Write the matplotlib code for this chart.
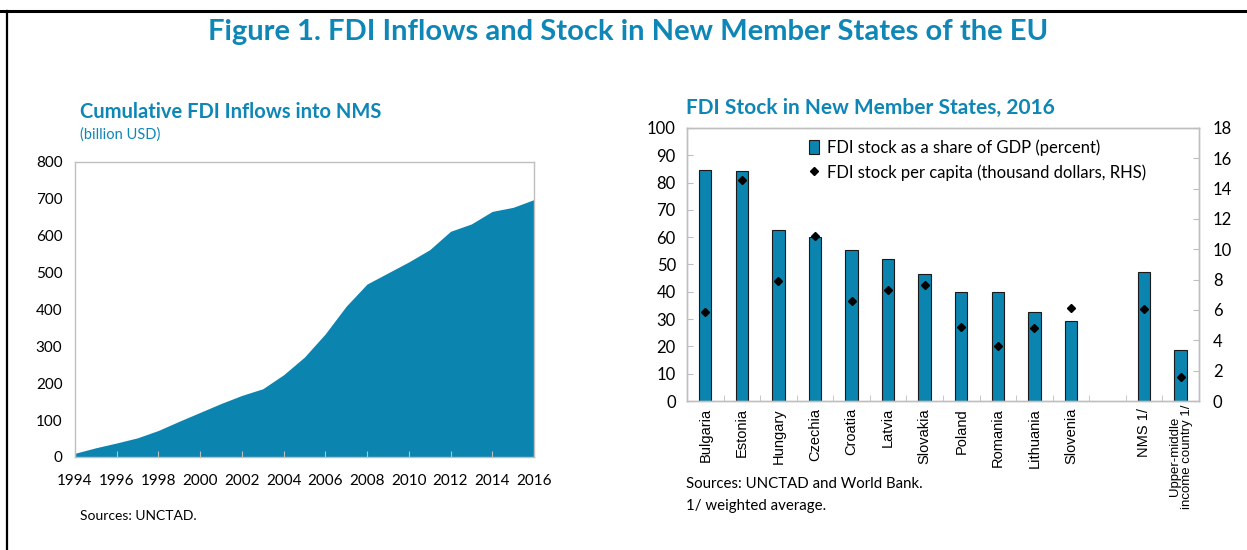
import matplotlib
matplotlib.use("Agg")
import matplotlib.pyplot as plt
from matplotlib.lines import Line2D
import numpy as np

# data
years = list(range(1994, 2017))
cum_fdi = [10, 25, 38, 52, 72, 97, 121, 145, 167, 185, 223, 271, 334, 409,
           469, 499, 529, 562, 612, 632, 666, 677, 698]

countries = ["Bulgaria", "Estonia", "Hungary", "Czechia", "Croatia", "Latvia",
             "Slovakia", "Poland", "Romania", "Lithuania", "Slovenia", "",
             "NMS 1/", "Upper-middle\nincome country 1/"]
stock_gdp = [84.6, 84.4, 62.8, 60.0, 55.4, 52.1, 46.6, 40.0, 39.9, 32.5, 29.3,
             np.nan, 47.4, 18.8]
stock_pc = [5.9, 14.6, 7.9, 10.9, 6.6, 7.3, 7.65, 4.9, 3.65, 4.8, 6.15,
            np.nan, 6.05, 1.6]

blue = "#0B84B0"
title_blue = "#0E86B6"
grey = "#BFBFBF"
plt.rcParams["font.family"] = ["Lato", "DejaVu Sans"]
arial = ["Liberation Sans", "DejaVu Sans"]

fig = plt.figure(figsize=(12.47, 5.5), dpi=100)

# frame lines (top and left)
fig.add_artist(Line2D([0, 1], [0.980, 0.980], color="black", lw=2.2, transform=fig.transFigure))
fig.add_artist(Line2D([0.0058, 0.0058], [0, 0.980], color="black", lw=1.6, transform=fig.transFigure))

fig.text(0.504, 0.942, "Figure 1. FDI Inflows and Stock in New Member States of the EU",
         ha="center", va="center", fontsize=21, fontweight="bold", color=title_blue)

# ---- left chart
ax1 = fig.add_axes([0.0601, 0.1691, 0.3681, 0.5364])
ax1.fill_between(years, cum_fdi, 0, color=blue, lw=0)
ax1.set_xlim(1994, 2016)
ax1.set_ylim(0, 800)
ax1.set_xticks(range(1994, 2017, 2))
ax1.set_yticks(range(0, 801, 100))
ax1.tick_params(axis="x", direction="in", length=4, color=grey, labelsize=11, pad=12)
ax1.tick_params(axis="y", length=0, labelsize=11, pad=9)
for s in ax1.spines.values():
    s.set_color(grey)
    s.set_linewidth(1)

fig.text(0.064, 0.796, "Cumulative FDI Inflows into NMS", ha="left", va="center",
         fontsize=14.5, fontweight="bold", color=title_blue)
fig.text(0.064, 0.755, "(billion USD)", ha="left", va="center", fontsize=10.5, color=title_blue)
fig.text(0.064, 0.062, "Sources: UNCTAD.", ha="left", va="center", fontsize=10)

# ---- right chart
ax2 = fig.add_axes([0.5509, 0.2709, 0.4106, 0.4964])
x = np.arange(len(countries))
ax2.bar(x, stock_gdp, width=0.34, color=blue, edgecolor="#1a1a1a", linewidth=0.8,
        label="FDI stock as a share of GDP (percent)", zorder=2)
ax2.set_xlim(-0.5, len(countries) - 0.5)
ax2.set_ylim(0, 100)
ax2.set_yticks(range(0, 101, 10))
ax2.set_xticks(x)
ax2.set_xticklabels(countries[:-1] + [""], rotation=90, fontsize=10.5, family=arial)
ax2.set_xticks(np.arange(0.5, len(countries) - 0.5, 1), minor=True)
ax2.tick_params(axis="x", which="major", length=0, pad=5)
ax2.tick_params(axis="x", which="minor", direction="in", length=4, color=grey)
ax2.tick_params(axis="y", direction="in", length=4, color=grey, labelsize=12, pad=8)
ax2.text(x[-1], -0.012, countries[-1], rotation=90, ha="center", va="top",
         fontsize=9.5, family=arial, transform=ax2.get_xaxis_transform(), linespacing=1.0)

ax3 = ax2.twinx()
ax3.plot(x, stock_pc, linestyle="none", marker="D", markersize=4.5, color="black",
         label="FDI stock per capita (thousand dollars, RHS)", zorder=3)
ax3.set_ylim(0, 18)
ax3.set_yticks(range(0, 19, 2))
ax3.tick_params(axis="y", direction="in", length=4, color=grey, labelsize=12, pad=10)
for a in (ax2, ax3):
    for s in a.spines.values():
        s.set_color(grey)
        s.set_linewidth(1)

h1, l1 = ax2.get_legend_handles_labels()
h2, l2 = ax3.get_legend_handles_labels()
fig.legend(h1 + h2, l1 + l2, loc="upper left", bbox_to_anchor=(0.6488, 0.747),
           bbox_transform=fig.transFigure, frameon=False, borderpad=0, borderaxespad=0,
           fontsize=12, handlelength=0.6, handleheight=0.9, handletextpad=0.45,
           labelspacing=0.5)

fig.text(0.550, 0.120, "Sources: UNCTAD and World Bank.", ha="left", va="center", fontsize=10.8)
fig.text(0.550, 0.080, "1/ weighted average.", ha="left", va="center", fontsize=10.8)

fig.text(0.550, 0.804, "FDI Stock in New Member States, 2016", ha="left", va="center",
         fontsize=15, fontweight="bold", color=title_blue)

fig.savefig("out.png", dpi=100)
